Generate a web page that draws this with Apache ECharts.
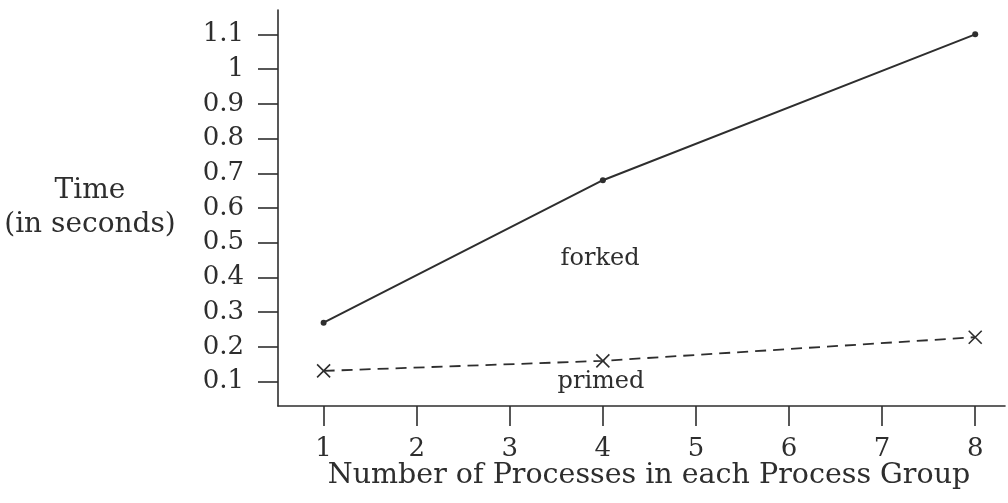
<!DOCTYPE html>
<html>
<head>
<meta charset="utf-8">
<script src="https://cdn.jsdelivr.net/npm/echarts@6/dist/echarts.min.js"></script>
<style>
  html, body { margin: 0; padding: 0; background: #fff; }
  #chart { width: 1008px; height: 503px; }
</style>
</head>
<body>
<div id="chart"></div>
<script>
// data
const processes = [1, 4, 8]
const forked = [0.27, 0.68, 1.1]
const primed = [0.131, 0.16, 0.228]

// tick labels
const xTicks = [1, 2, 3, 4, 5, 6, 7, 8]
const yTicks = [0.1, 0.2, 0.3, 0.4, 0.5, 0.6, 0.7, 0.8, 0.9, 1, 1.1]

const ink = '#2e2e2e'
const font = 'DejaVu Serif'

const chart = echarts.init(document.getElementById('chart'))

// in-plot series captions
const caption = (text, coord) => ({
  symbol: 'circle',
  symbolSize: 1,
  itemStyle: { color: 'transparent' },
  data: [{ coord: coord }],
  label: { show: true, position: 'inside', formatter: text, color: ink, fontFamily: font, fontSize: 24 }
})

const option = {
  backgroundColor: '#fff',
  animation: false,
  grid: { left: 278, right: 3, top: 10, bottom: 97 },
  xAxis: {
    type: 'value',
    min: 0.51,
    max: 8.32,
    name: 'Number of Processes in each Process Group',
    nameLocation: 'middle',
    nameGap: 55,
    nameMoveOverlap: false,
    nameTextStyle: { color: ink, fontFamily: font, fontSize: 28.5, padding: [0, 0, 0, 15] },
    axisLine: { lineStyle: { color: ink, width: 1.6 } },
    axisTick: { length: 20, customValues: xTicks, lineStyle: { color: ink, width: 1.6 } },
    axisLabel: { customValues: xTicks, margin: 30, color: ink, fontFamily: font, fontSize: 26 },
    splitLine: { show: false }
  },
  yAxis: {
    type: 'value',
    min: 0.03,
    max: 1.17,
    name: 'Time\n(in seconds)',
    nameLocation: 'middle',
    nameRotate: 0,
    nameGap: 188,
    nameMoveOverlap: false,
    nameTextStyle: { color: ink, fontFamily: font, fontSize: 28, align: 'center', lineHeight: 34 },
    axisLine: { lineStyle: { color: ink, width: 1.6 } },
    axisTick: { length: 20, customValues: yTicks, lineStyle: { color: ink, width: 1.6 } },
    axisLabel: { customValues: yTicks, margin: 34, color: ink, fontFamily: font, fontSize: 26 },
    splitLine: { show: false }
  },
  series: [
    {
      name: 'forked',
      type: 'line',
      data: processes.map((p, i) => [p, forked[i]]),
      symbol: 'circle',
      symbolSize: 6,
      itemStyle: { color: ink },
      lineStyle: { color: ink, width: 2 },
      markPoint: caption('forked', [3.97, 0.455])
    },
    {
      name: 'primed',
      type: 'line',
      data: processes.map((p, i) => [p, primed[i]]),
      symbol: 'path://M0,0L10,10M10,0L0,10',
      symbolSize: 13,
      itemStyle: { color: 'transparent', borderColor: ink, borderWidth: 1.6 },
      lineStyle: { color: ink, width: 1.8, type: [11, 7] },
      markPoint: caption('primed', [3.98, 0.1])
    }
  ]
}

chart.setOption(option)
</script>
</body>
</html>
